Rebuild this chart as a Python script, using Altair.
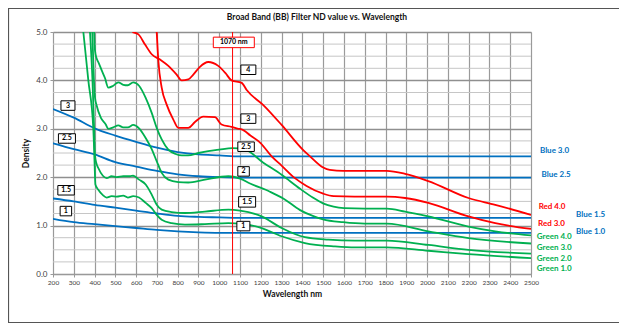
import altair as alt
import pandas as pd

# ---------------- data ----------------
x_ticks = [200, 300, 400, 500, 600, 700, 800, 900, 1000, 1100, 1200, 1300, 1400,
           1500, 1600, 1700, 1800, 1900, 2000, 2100, 2200, 2300, 2400, 2500]
y_ticks = [0.0, 1.0, 2.0, 3.0, 4.0, 5.0]

wl_blue = [200, 300, 400, 500, 600, 700, 800, 900, 1000, 1100, 1300, 1600, 2000, 2500]
blue_3_0 = [3.41, 3.23, 3.01, 2.86, 2.73, 2.61, 2.52, 2.47, 2.45, 2.43, 2.43, 2.43, 2.43, 2.43]
blue_2_5 = [2.70, 2.58, 2.47, 2.31, 2.22, 2.13, 2.06, 2.02, 2.00, 1.99, 1.99, 1.99, 1.99, 1.99]
blue_1_5 = [1.56, 1.50, 1.43, 1.37, 1.31, 1.25, 1.20, 1.18, 1.17, 1.16, 1.16, 1.16, 1.16, 1.16]
blue_1_0 = [1.14, 1.07, 1.03, 0.99, 0.95, 0.91, 0.88, 0.86, 0.85, 0.85, 0.85, 0.85, 0.85, 0.85]

g4_wl = [398, 402, 410, 418, 435, 450, 466, 490, 514, 538, 560, 586, 614, 646, 675, 699,
         723, 755, 790, 820, 850, 900, 947, 1000, 1063, 1124, 1212, 1300, 1389, 1450, 1499,
         1550, 1600, 1700, 1806, 1894, 2006, 2199, 2328, 2500]
green_4_0 = [5.0, 4.62, 4.45, 4.38, 4.20, 4.05, 3.85, 3.89, 3.96, 3.91, 3.90, 3.96, 3.89, 3.64,
             3.33, 3.02, 2.78, 2.57, 2.48, 2.45, 2.45, 2.50, 2.54, 2.57, 2.60, 2.57, 2.30, 2.05,
             1.76, 1.58, 1.46, 1.39, 1.36, 1.35, 1.35, 1.29, 1.19, 0.98, 0.88, 0.80]

g3_wl = [389, 397, 402, 410, 430, 454, 466, 490, 514, 538, 560, 586, 614, 646, 675, 699,
         723, 755, 803, 851, 931, 1044, 1100, 1148, 1244, 1308, 1389, 1450, 1499, 1596,
         1700, 1806, 2006, 2199, 2500]
green_3_0 = [5.0, 4.0, 3.65, 3.48, 3.23, 3.09, 3.00, 3.03, 3.07, 3.03, 3.03, 3.08, 3.01, 2.81,
             2.58, 2.33, 2.09, 1.95, 1.90, 1.89, 1.95, 2.02, 1.97, 1.87, 1.70, 1.56, 1.32, 1.20,
             1.13, 1.07, 1.04, 1.04, 0.88, 0.74, 0.63]

g2_wl = [378, 390, 398, 402, 408, 418, 440, 458, 482, 506, 538, 570, 586, 614, 646, 675,
         699, 723, 771, 835, 931, 1044, 1100, 1204, 1300, 1412, 1525, 1653, 1806, 2006,
         2199, 2500]
green_2_0 = [5.0, 4.0, 3.0, 2.45, 2.30, 2.19, 2.03, 1.98, 2.02, 2.00, 2.02, 2.02, 2.03, 1.95,
             1.85, 1.64, 1.43, 1.33, 1.28, 1.26, 1.29, 1.33, 1.31, 1.19, 0.95, 0.76, 0.71,
             0.69, 0.69, 0.60, 0.50, 0.42]

g1_wl = [346, 370, 394, 400, 404, 418, 440, 458, 482, 506, 538, 560, 586, 614, 646, 675,
         699, 723, 771, 835, 931, 1044, 1100, 1204, 1300, 1412, 1557, 1653, 1806, 2006,
         2199, 2500]
green_1_0 = [5.0, 4.0, 3.0, 2.30, 1.85, 1.74, 1.63, 1.58, 1.61, 1.60, 1.62, 1.58, 1.61, 1.58,
             1.47, 1.36, 1.22, 1.12, 1.05, 1.02, 1.03, 1.05, 1.04, 0.95, 0.78, 0.64, 0.57,
             0.55, 0.55, 0.48, 0.41, 0.33]

r4_wl = [582, 611, 643, 675, 715, 755, 795, 819, 851, 875, 907, 947, 995, 1030, 1059, 1108,
         1132, 1212, 1300, 1404, 1437, 1500, 1532, 1597, 1726, 1806, 1894, 2006, 2199, 2328,
         2500]
red_4_0 = [5.0, 4.95, 4.74, 4.54, 4.43, 4.30, 4.12, 4.00, 4.02, 4.12, 4.28, 4.38, 4.30, 4.15,
           4.00, 3.95, 3.80, 3.49, 3.08, 2.56, 2.43, 2.20, 2.15, 2.13, 2.13, 2.13, 2.07, 1.92,
           1.57, 1.43, 1.22]

r3_wl = [699, 707, 723, 747, 779, 803, 851, 883, 923, 979, 1011, 1059, 1092, 1108, 1150,
         1200, 1252, 1300, 1364, 1420, 1500, 1550, 1650, 1806, 1894, 2006, 2199, 2328, 2500]
red_3_0 = [5.0, 4.40, 3.85, 3.50, 3.19, 3.02, 3.02, 3.14, 3.25, 3.24, 3.09, 3.04, 3.00, 2.99,
           2.86, 2.70, 2.43, 2.24, 1.98, 1.82, 1.66, 1.61, 1.60, 1.60, 1.57, 1.47, 1.19, 1.05,
           0.93]

laser_wl = [1064]

box_labels = ["3", "2.5", "1.5", "1", "1070 nm", "4", "3", "2.5", "2", "1.5", "1"]
box_wl = [272, 267, 263, 262, 1070, 1140, 1140, 1129, 1117, 1134, 1116]
box_nd = [3.48, 2.80, 1.73, 1.30, 4.785, 4.22, 3.21, 2.63, 2.12, 1.49, 0.99]

end_labels = ["Blue 3.0", "Blue 2.5", "Red 4.0", "Blue 1.5", "Red 3.0", "Blue 1.0",
              "Green 4.0", "Green 3.0", "Green 2.0", "Green 1.0"]
end_wl = [2543, 2551, 2537, 2717, 2534, 2717, 2528, 2528, 2528, 2528]
end_nd = [2.54, 2.05, 1.38, 1.21, 1.03, 0.86, 0.76, 0.53, 0.32, 0.10]

title_text = "Broad Band (BB) Filter ND value vs. Wavelength"

# ---------------- styles ----------------
W, H = 478, 242
FONT = "Lato"
RED, GREEN, BLUE = "#ff0000", "#00b050", "#0070c0"
box_w_px = [14, 17, 16.5, 11.5, 41, 15, 15, 16.5, 11.5, 17, 13]
box_h_px = [9.5, 9.5, 9.5, 9.5, 10.5, 9.5, 9.5, 9.5, 9.5, 10.5, 9.5]
nm_per_px = (2500 - 200) / W
nd_per_px = 5.0 / H

series = [
    ("Blue 3.0", wl_blue, blue_3_0, BLUE),
    ("Blue 2.5", wl_blue, blue_2_5, BLUE),
    ("Blue 1.5", wl_blue, blue_1_5, BLUE),
    ("Blue 1.0", wl_blue, blue_1_0, BLUE),
    ("Green 4.0", g4_wl, green_4_0, GREEN),
    ("Green 3.0", g3_wl, green_3_0, GREEN),
    ("Green 2.0", g2_wl, green_2_0, GREEN),
    ("Green 1.0", g1_wl, green_1_0, GREEN),
    ("Red 4.0", r4_wl, red_4_0, RED),
    ("Red 3.0", r3_wl, red_3_0, RED),
]
rows = []
for name, wls, nds, _c in series:
    for w, v in zip(wls, nds):
        rows.append({"series": name, "wl": w, "nd": v})
df = pd.DataFrame(rows)

xscale = alt.Scale(domain=[200, 2500], nice=False, zero=False)
yscale = alt.Scale(domain=[0, 5], nice=False, zero=False)

xaxis = alt.Axis(values=x_ticks, format="d", title="Wavelength nm", titleFont=FONT,
                 titleFontSize=8.5, titleFontWeight="bold", titleColor="#111111",
                 titlePadding=4, labelFont=FONT, labelFontSize=6.5, labelColor="#404040",
                 labelFlush=False, labelOverlap=False, labelPadding=2, tickSize=3,
                 tickColor="#999999", domainColor="#999999", grid=True,
                 gridColor="#9a9a9a", gridWidth=1.2)
yaxis = alt.Axis(values=y_ticks, format=".1f", title="Density", titleFont=FONT,
                 titleFontSize=8.5, titleFontWeight="bold", titleColor="#111111",
                 titlePadding=5, labelFont=FONT, labelFontSize=8, labelColor="#404040",
                 labelPadding=3, tickSize=3, tickColor="#999999", domainColor="#999999",
                 grid=True, gridColor="#8f8f8f", gridWidth=1.3)


def X(field):
    return alt.X(field, type="quantitative", scale=xscale, axis=xaxis)


def Y(field):
    return alt.Y(field, type="quantitative", scale=yscale, axis=yaxis)


one = pd.DataFrame({"k": [0]})

frame = alt.Chart(one).mark_rect(fillOpacity=0, stroke="#555555", strokeWidth=1.2).encode(
    x=alt.value(-44.5), x2=alt.value(600), y=alt.value(-23.5), y2=alt.value(290.5))

minor_levels = [i * 0.25 for i in range(1, 20) if i % 4]
minor = alt.Chart(pd.DataFrame({"nd": minor_levels})).mark_rule(
    color="#c6c6c6", strokeWidth=1).encode(y=Y("nd"))

lines = alt.Chart(df).mark_line(strokeWidth=1.8, interpolate="monotone", clip=True).encode(
    x=X("wl"), y=Y("nd"),
    color=alt.Color("series:N", scale=alt.Scale(domain=[s[0] for s in series],
                                                range=[s[3] for s in series]), legend=None),
    detail="series:N")

laser = alt.Chart(pd.DataFrame({"wl": laser_wl})).mark_rule(color=RED, strokeWidth=1).encode(
    x=X("wl"))

bdf = pd.DataFrame({
    "label": box_labels, "wl": box_wl, "nd": box_nd,
    "bx0": [w - bw / 2 * nm_per_px for w, bw in zip(box_wl, box_w_px)],
    "bx1": [w + bw / 2 * nm_per_px for w, bw in zip(box_wl, box_w_px)],
    "by0": [v - bh / 2 * nd_per_px for v, bh in zip(box_nd, box_h_px)],
    "by1": [v + bh / 2 * nd_per_px for v, bh in zip(box_nd, box_h_px)],
    "stroke": [RED if "nm" in t else "#000000" for t in box_labels],
})
boxes = alt.Chart(bdf).mark_rect(fill="white", strokeWidth=1).encode(
    x=X("bx0"), x2="bx1", y=Y("by0"), y2="by1",
    stroke=alt.Color("stroke:N", scale=None))
boxtext = alt.Chart(bdf).mark_text(font=FONT, fontSize=7, fontWeight="bold", color="#000000",
                                   baseline="middle", align="center").encode(
    x=X("wl"), y=Y("nd"), text="label:N")

edf = pd.DataFrame({
    "label": end_labels, "wl": end_wl, "nd": end_nd,
    "col": [BLUE if t.startswith("Blue") else RED if t.startswith("Red") else GREEN
            for t in end_labels],
})
endtext = alt.Chart(edf).mark_text(font=FONT, fontSize=8, fontWeight="bold", align="left",
                                   baseline="middle").encode(
    x=X("wl"), y=Y("nd"), text="label:N", color=alt.Color("col:N", scale=None))

title = alt.Chart(one).mark_text(text=title_text, font=FONT, fontSize=8.5, fontWeight="bold",
                                 color="#111111", align="center", baseline="middle").encode(
    x=alt.value(264), y=alt.value(-15))

chart = alt.layer(frame, minor, lines, laser, boxes, boxtext, endtext, title).properties(
    width=W, height=H,
    padding={"left": 45, "top": 24, "right": 88, "bottom": 50},
    autosize=alt.AutoSizeParams(type="none"),
).configure_view(stroke=None).configure(background="white")

chart.save("out.html", embed_options={"renderer": "svg", "actions": False})
